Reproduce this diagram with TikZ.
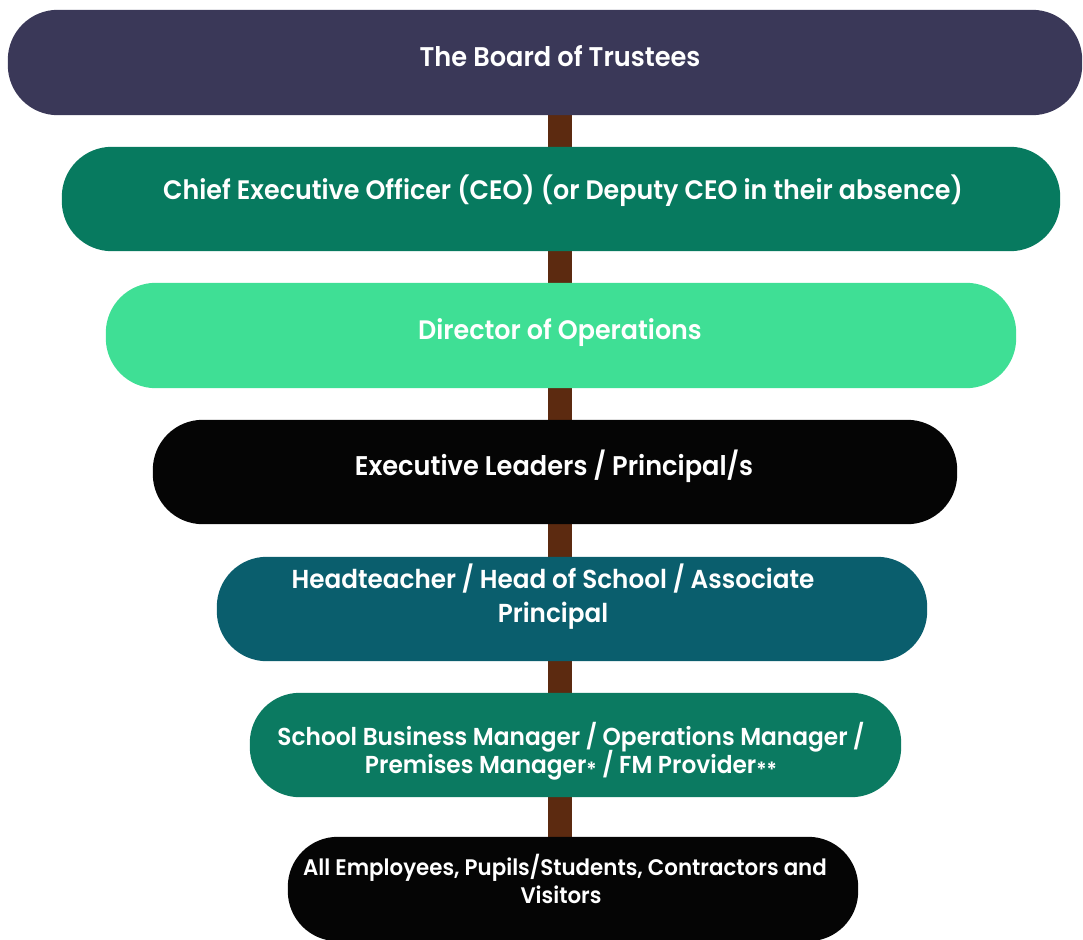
\documentclass[tikz,border=0pt]{standalone}
\usepackage{fontspec}
\setmainfont{Poppins}[UprightFont=* SemiBold, FakeStretch=0.95]
\definecolor{cnavy}{HTML}{3A3858}
\definecolor{cgreen}{HTML}{077A5F}
\definecolor{clight}{HTML}{3FDF95}
\definecolor{cteal}{HTML}{0A5E6D}
\definecolor{cgreentwo}{HTML}{0B7A61}
\definecolor{cblack}{HTML}{050505}
\definecolor{cbrown}{HTML}{5C2A10}
\newcommand{\lowstar}{\raisebox{-4.5pt}{\fontsize{21}{21}\selectfont *}}
\begin{document}
\begin{tikzpicture}[x=1pt,y=-1pt,
  pill/.style={rounded corners=50pt},
  boxnode/.style={inner sep=0pt,minimum height=104pt},
  lbl/.style={anchor=base,text=white,inner sep=0pt,font=\fontsize{#1}{#1}\selectfont},
  bar/.style={draw=cbrown,line width=24pt}]
\useasboundingbox (0,0) rectangle (1083,939);
\clip (0,0) rectangle (1083,939);
\coordinate (spine) at (560,0);
% boxes as nodes
\node[boxnode,minimum width=1074pt,minimum height=105pt] (b1) at (545,62.5) {};
\node[boxnode,minimum width=998pt] (b2) at (561,199) {};
\node[boxnode,minimum width=910pt,minimum height=105pt] (b3) at (561,335.5) {};
\node[boxnode,minimum width=804pt] (b4) at (555,472) {};
\node[boxnode,minimum width=710pt] (b5) at (572,609) {};
\node[boxnode,minimum width=651pt] (b6) at (575.5,745) {};
\node[boxnode,minimum width=570pt] (b7) at (573,889) {};
% connectors behind
\draw[bar] (b1.south -| spine) -- (b2.north -| spine);
\draw[bar] (b2.south -| spine) -- (b3.north -| spine);
\draw[bar] (b3.south -| spine) -- (b4.north -| spine);
\draw[bar] (b4.south -| spine) -- (b5.north -| spine);
\draw[bar] (b5.south -| spine) -- (b6.north -| spine);
\draw[bar] (b6.south -| spine) -- (b7.north -| spine);
% fills
\fill[pill,cnavy] (b1.north west) rectangle (b1.south east);
\fill[pill,cgreen] (b2.north west) rectangle (b2.south east);
\fill[pill,clight] (b3.north west) rectangle (b3.south east);
\fill[pill,cblack] (b4.north west) rectangle (b4.south east);
\fill[pill,cteal] (b5.north west) rectangle (b5.south east);
\fill[pill,cgreentwo] (b6.north west) rectangle (b6.south east);
\fill[pill,cblack] (b7.north west) rectangle (b7.south east);
% texts
\node[lbl=27] (t1) at (560,67) {The Board of Trustees};
\node[lbl=26.7] (t2) at (563,199.5) {Chief Executive Officer (CEO) (or Deputy CEO in their absence)};
\node[lbl=26.7] (t3) at (560,339) {Director of Operations};
\node[lbl=27] (t4) at (554,475) {Executive Leaders / Principal/s};
\node[lbl=26] (t5a) at (553,588) {Headteacher / Head of School / Associate};
\node[lbl=26] (t5b) at (553,622) {Principal};
\node[lbl=24.5] (t6a) at (571,745) {School Business Manager / Operations Manager /};
\node[lbl=24.5] (t6b) at (571,773) {Premises Manager\lowstar{} / FM Provider\lowstar\lowstar};
\node[lbl=22.5] (t7a) at (565,875) {All Employees, Pupils/Students, Contractors and};
\node[lbl=22.5] (t7b) at (561,903) {Visitors};
\end{tikzpicture}
\end{document}
